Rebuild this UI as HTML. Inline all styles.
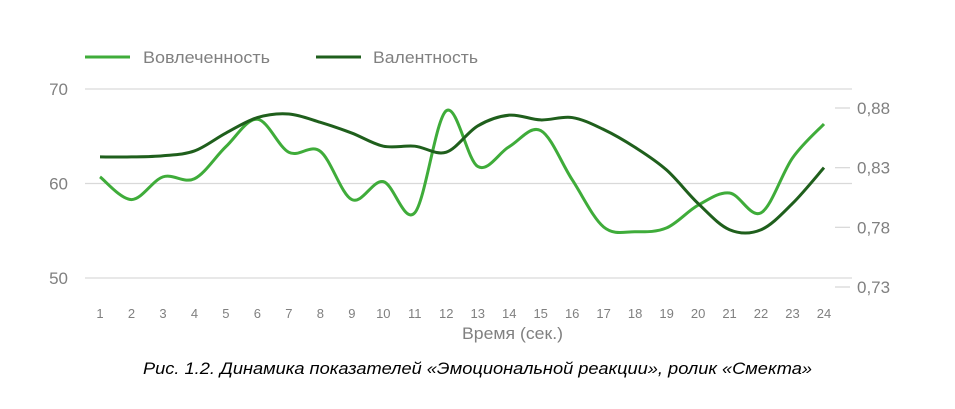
<!DOCTYPE html>
<html><head><meta charset="utf-8"><style>
body{margin:0;background:#fff;width:955px;height:404px;overflow:hidden}
svg text{font-family:"Liberation Sans",sans-serif}
</style></head><body>
<svg width="955" height="404">
<g>
<line x1="85" y1="57" x2="130" y2="57" stroke="#3fac3a" stroke-width="3"/>
<text x="143" y="63" font-size="17" fill="#808080" textLength="127" lengthAdjust="spacingAndGlyphs">Вовлеченность</text>
<line x1="316" y1="57" x2="361" y2="57" stroke="#1f5f1c" stroke-width="3"/>
<text x="373" y="63" font-size="17" fill="#808080" textLength="105" lengthAdjust="spacingAndGlyphs">Валентность</text>
</g>
<g id="grid"></g>
<g id="laxis"></g>
<g id="raxis"></g>
<g id="xaxis"></g>
<g id="series"></g>
<text x="462" y="339" font-size="17" fill="#808080" textLength="101" lengthAdjust="spacingAndGlyphs">Время (сек.)</text>
<text x="143" y="374" font-size="17" font-style="italic" fill="#000" textLength="669" lengthAdjust="spacingAndGlyphs">Рис. 1.2. Динамика показателей «Эмоциональной реакции», ролик «Смекта»</text>
</svg>
<script>
const categories=[1,2,3,4,5,6,7,8,9,10,11,12,13,14,15,16,17,18,19,20,21,22,23,24];
const engagement=[60.7,58.3,60.7,60.5,63.9,66.8,63.3,63.4,58.3,60.2,56.9,67.7,61.8,63.9,65.6,60.4,55.4,54.9,55.3,57.7,59.0,56.9,62.7,66.3];
const valence=[0.839,0.839,0.840,0.844,0.859,0.872,0.875,0.868,0.859,0.848,0.848,0.843,0.865,0.874,0.870,0.872,0.862,0.847,0.828,0.800,0.778,0.778,0.800,0.830];
const leftTicks=[50,60,70];
const rightTicks=["0,73","0,78","0,83","0,88"];
const rightTickVals=[0.73,0.78,0.83,0.88];
const NS="http://www.w3.org/2000/svg";
const x=i=>100+i*(824-100)/(categories.length-1);
const yl=v=>278-(v-50)*(278-89)/20;
const yr=v=>287-(v-0.73)*(287-108)/0.15;
function mk(tag,attrs,parent){const e=document.createElementNS(NS,tag);for(const k in attrs)e.setAttribute(k,attrs[k]);parent.appendChild(e);return e;}
const grid=document.getElementById('grid'),la=document.getElementById('laxis'),ra=document.getElementById('raxis'),xa=document.getElementById('xaxis'),sg=document.getElementById('series');
leftTicks.forEach(v=>{
 const l=mk('line',{x1:85,x2:852,y1:yl(v),y2:yl(v),stroke:'#d9d9d9','stroke-width':1.3},grid);
 
 
 const t=mk('text',{x:68,y:yl(v)+6,'font-size':17,fill:'#808080','text-anchor':'end'},la);t.textContent=v;
 
 
});
rightTickVals.forEach((v,i)=>{
 const l=mk('line',{x1:835,x2:850,y1:yr(v),y2:yr(v),stroke:'#d9d9d9','stroke-width':1.3},ra);
 
 
 const t=mk('text',{x:857,y:yr(v)+6,'font-size':17,fill:'#808080'},ra);t.textContent=rightTicks[i];
 
 
});
categories.forEach((c,i)=>{
 const t=mk('text',{x:x(i),y:318,'font-size':13,fill:'#808080','text-anchor':'middle'},xa);t.textContent=c;
 
 
});
function path(pts){let d='M'+pts[0][0]+','+pts[0][1];
 for(let i=0;i<pts.length-1;i++){const p0=pts[i-1]||pts[i],p1=pts[i],p2=pts[i+1],p3=pts[i+2]||p2;
  const c1=[p1[0]+(p2[0]-p0[0])/6,p1[1]+(p2[1]-p0[1])/6],c2=[p2[0]-(p3[0]-p1[0])/6,p2[1]-(p3[1]-p1[1])/6];
  d+=` C${c1[0]},${c1[1]} ${c2[0]},${c2[1]} ${p2[0]},${p2[1]}`;}
 return d;}
const pe=mk('path',{d:path(engagement.map((v,i)=>[x(i),yl(v)])),fill:'none',stroke:'#3fac3a','stroke-width':3,'stroke-linejoin':'round'},sg);


const pv=mk('path',{d:path(valence.map((v,i)=>[x(i),yr(v)])),fill:'none',stroke:'#1f5f1c','stroke-width':3,'stroke-linejoin':'round'},sg);


</script>
</body></html>
